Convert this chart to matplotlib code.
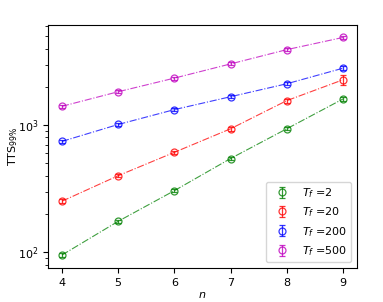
import matplotlib
matplotlib.use("Agg")
import matplotlib.pyplot as plt
import numpy as np

n = [4, 5, 6, 7, 8, 9]
tts_2 = [95, 175, 305, 546, 936, 1606]
tts_20 = [252, 400, 611, 936, 1559, 2274]
tts_200 = [745, 1012, 1325, 1674, 2117, 2806]
tts_500 = [1407, 1832, 2345, 3033, 3929, 4898]
err_2 = [3, 5, 8, 15, 25, 60]
err_20 = [8, 12, 18, 30, 60, 200]
err_200 = [20, 25, 35, 45, 60, 90]
err_500 = [40, 50, 60, 80, 100, 150]
labels = ["$T_f$ =2", "$T_f$ =20", "$T_f$ =200", "$T_f$ =500"]
colors = ["g", "r", "b", "m"]

fig = plt.figure(figsize=(3.83, 3.02), dpi=100)
ax = fig.add_axes([0.125, 0.113, 0.807, 0.805])
for y, e, lab, c in zip([tts_2, tts_20, tts_200, tts_500],
                        [err_2, err_20, err_200, err_500], labels, colors):
    ax.plot(n, y, ls='-.', lw=0.8, color=c, alpha=0.75)
    ax.errorbar(n, y, yerr=e, fmt='o', mfc='none', color=c, ms=5, capsize=2,
                elinewidth=0.9, mew=0.9, label=lab, alpha=0.8)
ax.set_yscale('log')
ax.set_xlabel('$n$', fontsize=8)
ax.set_ylabel('TTS$_{99\\%}$', fontsize=8)
ax.xaxis.set_label_coords(0.5, -0.093)
ax.yaxis.set_label_coords(-0.09, 0.5)
ax.tick_params(labelsize=8)
ax.set_xticks(n)
ax.legend(loc='lower right', fontsize=8)
fig.savefig("out.png", dpi=100)
